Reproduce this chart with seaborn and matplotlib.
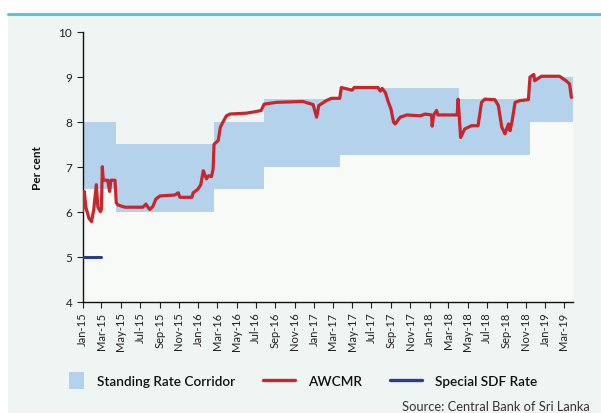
import matplotlib
matplotlib.use("Agg")
import matplotlib.pyplot as plt
import matplotlib.dates as mdates
from matplotlib.patches import Patch, Rectangle
from matplotlib.lines import Line2D
from matplotlib.legend_handler import HandlerPatch
import seaborn as sns
import pandas as pd

# ---- data ----
awcmr_dates = [
    "2015-01-01", "2015-01-06", "2015-01-11", "2015-01-21", "2015-01-29", "2015-02-05",
    "2015-02-13", "2015-02-18", "2015-02-26", "2015-03-01", "2015-03-04", "2015-03-07",
    "2015-03-21", "2015-03-27", "2015-03-31", "2015-04-13", "2015-04-17", "2015-04-22",
    "2015-05-14", "2015-07-10", "2015-07-20", "2015-07-26", "2015-08-01", "2015-08-11",
    "2015-08-20", "2015-09-02", "2015-10-19", "2015-10-30", "2015-11-04", "2015-12-12",
    "2015-12-16", "2015-12-31", "2016-01-09", "2016-01-17", "2016-01-27", "2016-02-03",
    "2016-02-12", "2016-02-17", "2016-02-20", "2016-03-04", "2016-03-11", "2016-03-19",
    "2016-03-30", "2016-04-10", "2016-06-01", "2016-06-27", "2016-07-18", "2016-07-27",
    "2016-09-04", "2016-11-26", "2016-12-29", "2017-01-09", "2017-01-16", "2017-02-09",
    "2017-02-25", "2017-03-23", "2017-03-28", "2017-05-01", "2017-05-08", "2017-07-22",
    "2017-07-29", "2017-08-04", "2017-08-14", "2017-08-24", "2017-09-01", "2017-09-09",
    "2017-09-14", "2017-09-30", "2017-10-21", "2017-12-02", "2017-12-18", "2018-01-07",
    "2018-01-09", "2018-01-14", "2018-01-23", "2018-01-27", "2018-03-29", "2018-04-01",
    "2018-04-09", "2018-04-22", "2018-05-13", "2018-06-03", "2018-06-14", "2018-06-24",
    "2018-07-26", "2018-08-06", "2018-08-17", "2018-08-27", "2018-09-07", "2018-09-12",
    "2018-09-18", "2018-09-28", "2018-10-14", "2018-11-09", "2018-11-14", "2018-11-26",
    "2018-11-29", "2018-12-20", "2019-02-15", "2019-03-08", "2019-03-19", "2019-03-25",
]
awcmr_values = [
    6.02, 6.45, 6.10, 5.85, 5.78, 6.05,
    6.60, 6.10, 6.00, 6.05, 7.00, 6.70,
    6.70, 6.45, 6.70, 6.70, 6.20, 6.15,
    6.10, 6.10, 6.17, 6.10, 6.05, 6.12,
    6.28, 6.35, 6.37, 6.42, 6.32, 6.32,
    6.42, 6.50, 6.60, 6.91, 6.73, 6.80,
    6.78, 6.95, 7.50, 7.58, 7.88, 7.99,
    8.13, 8.17, 8.19, 8.22, 8.25, 8.39,
    8.43, 8.45, 8.38, 8.10, 8.36, 8.47,
    8.52, 8.52, 8.76, 8.70, 8.76, 8.76,
    8.68, 8.74, 8.65, 8.43, 8.28, 7.99,
    7.95, 8.10, 8.15, 8.13, 8.17, 8.15,
    7.90, 8.15, 8.25, 8.15, 8.15, 8.50,
    7.65, 7.84, 7.91, 7.91, 8.43, 8.50,
    8.49, 8.36, 7.88, 7.73, 7.95, 7.80,
    7.99, 8.43, 8.47, 8.49, 8.99, 9.05,
    8.91, 9.01, 9.01, 8.91, 8.84, 8.54,
]

corridor_dates = ["2015-01-01", "2015-04-15", "2016-02-19", "2016-07-28",
                  "2017-03-24", "2018-04-04", "2018-11-14", "2019-03-29"]
sdfr = [6.50, 6.00, 6.50, 7.00, 7.25, 7.25, 8.00, 8.00]
slfr = [8.00, 7.50, 8.00, 8.50, 8.75, 8.50, 9.00, 9.00]

special_sdf_dates = ["2015-01-01", "2015-03-01"]
special_sdf_values = [5.00, 5.00]

x_start, x_end = "2015-01-01", "2019-03-29"
y_ticks = [4, 5, 6, 7, 8, 9, 10]

legend_labels = ["Standing Rate Corridor", "AWCMR", "Special SDF Rate"]
source_text = "Source: Central Bank of Sri Lanka"
y_label = "Per cent"

# ---- style ----
BG = "#eff5f3"
LOWER = "#f8faf8"
CORR = "#b4d2eb"
RED = "#c8262d"
NAVY = "#2a3d8f"
TEAL = "#5ec4cf"

sns.set_style("ticks")
plt.rcParams["font.family"] = ["Lato", "DejaVu Sans"]

fig = plt.figure(figsize=(6.01, 4.14), dpi=100)
fig.patch.set_facecolor("white")
fig.add_artist(Rectangle((8 / 601, 0), 1, 1 - 15 / 414, transform=fig.transFigure,
                         facecolor=BG, edgecolor="none", zorder=-10))
fig.add_artist(Line2D([8 / 601, 1], [1 - 14.5 / 414] * 2, transform=fig.transFigure,
                      color=TEAL, lw=2.2))

ax = fig.add_axes([82.7 / 601, 1 - 302.7 / 414, (572.7 - 82.7) / 601, (302.7 - 32.7) / 414])
ax.set_facecolor(BG)

cd = pd.to_datetime(corridor_dates)
ax.fill_between(cd, 4, sdfr, step="post", color=LOWER, lw=0, zorder=1)
ax.fill_between(cd, sdfr, slfr, step="post", color=CORR, lw=0, zorder=2)

df_a = pd.DataFrame({"date": pd.to_datetime(awcmr_dates), "rate": awcmr_values})
df_s = pd.DataFrame({"date": pd.to_datetime(special_sdf_dates), "rate": special_sdf_values})
sns.lineplot(data=df_a, x="date", y="rate", ax=ax, color=RED, lw=2.3, zorder=4)
sns.lineplot(data=df_s, x="date", y="rate", ax=ax, color=NAVY, lw=2.2, zorder=4)

ax.set_xlim(pd.Timestamp(x_start), pd.Timestamp(x_end))
ax.set_ylim(4, 10)
ax.set_yticks(y_ticks)
ax.xaxis.set_major_locator(mdates.MonthLocator(bymonth=[1, 3, 5, 7, 9, 11]))
ax.xaxis.set_major_formatter(mdates.DateFormatter("%b-%y"))
ax.tick_params(axis="x", rotation=90, labelsize=8, length=4, width=0.8, colors="#222222", pad=3)
ax.tick_params(axis="y", labelsize=8.5, length=4, width=0.8, colors="#222222")
for lbl in ax.get_xticklabels():
    lbl.set_horizontalalignment("center")
ax.set_xlabel("")
ax.set_ylabel(y_label, fontsize=8.5, fontweight="bold", labelpad=11, color="#111111")
for s in ["top", "right"]:
    ax.spines[s].set_visible(False)
for s in ["left", "bottom"]:
    ax.spines[s].set_color("#111111")
    ax.spines[s].set_linewidth(1.0)


class NarrowPatch(HandlerPatch):
    def create_artists(self, legend, orig_handle, xdescent, ydescent, width, height,
                       fontsize, trans):
        w = width * 0.47
        h = height * 1.35
        p = Rectangle((width - w - xdescent, -ydescent - (h - height) / 2), w, h,
                      facecolor=orig_handle.get_facecolor(), edgecolor="none",
                      transform=trans)
        return [p]


handles = [Patch(facecolor=CORR, edgecolor="none"),
           Line2D([], [], color=RED, lw=2.4),
           Line2D([], [], color=NAVY, lw=2.4)]
leg = fig.legend(handles, legend_labels, loc="center", bbox_to_anchor=(0.49, 1 - 382 / 414),
                 ncol=3, frameon=False, fontsize=9.8, handlelength=2.35, handleheight=1.0,
                 handletextpad=0.95, columnspacing=2.05,
                 handler_map={Patch: NarrowPatch()})
for t in leg.get_texts():
    t.set_fontweight("semibold")
    t.set_color("#111111")

fig.text(590 / 601, 1 - 407 / 414, source_text, ha="right", va="center",
         fontsize=9.3, color="#333333")

fig.savefig("out.png", dpi=100, facecolor=fig.get_facecolor())
